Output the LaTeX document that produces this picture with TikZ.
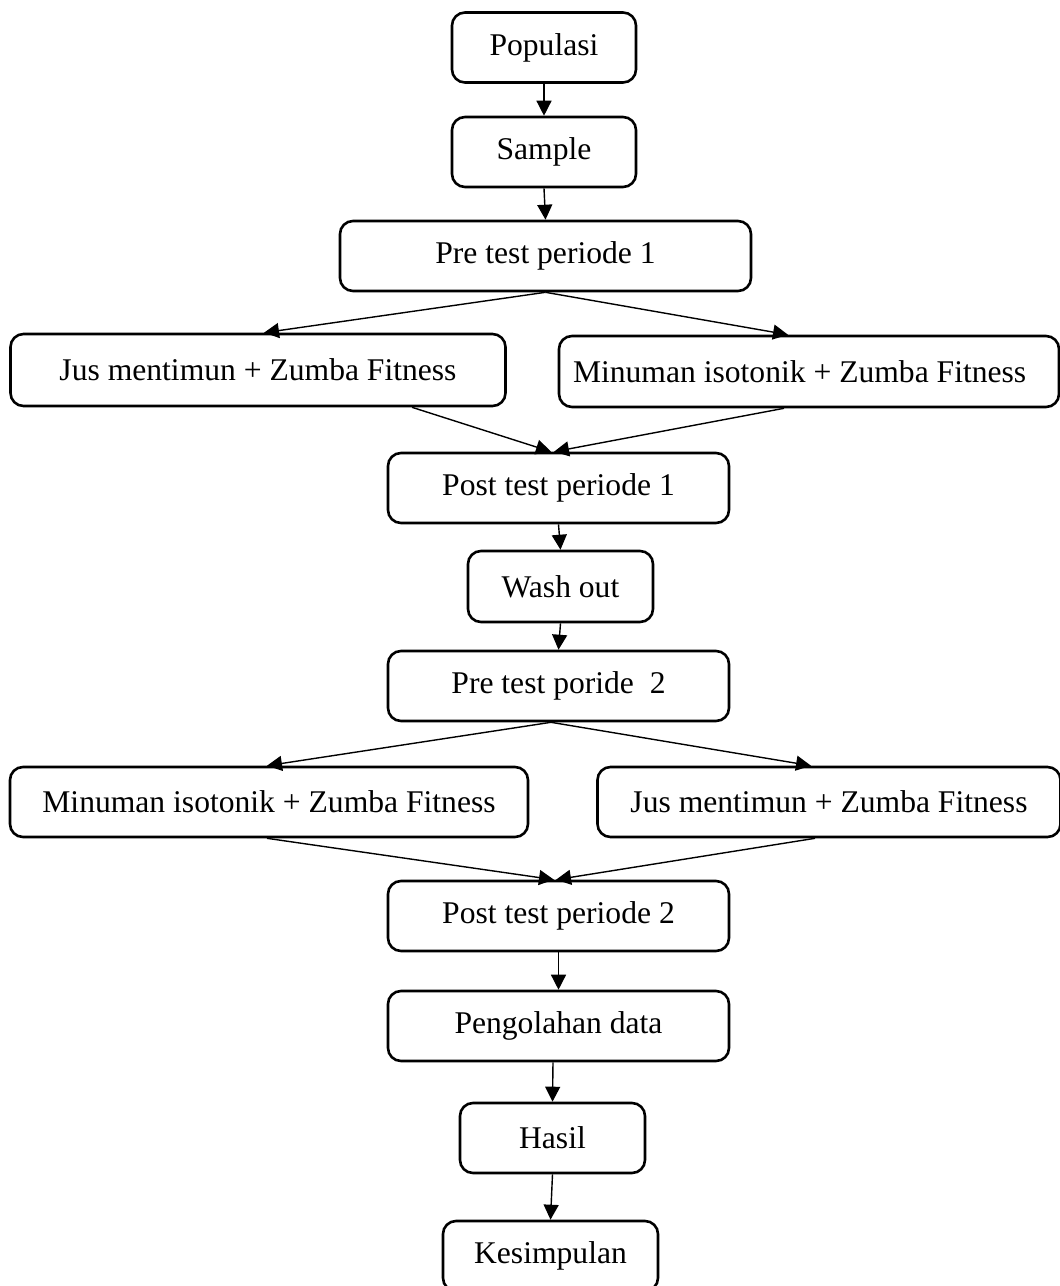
\documentclass[tikz,border=0pt]{standalone}
\usepackage{fontspec}
\setmainfont{Liberation Serif}
\usetikzlibrary{arrows.meta}
\begin{document}
\begin{tikzpicture}[x=1pt,y=-1pt,
  box/.style={draw,line width=2.6pt,rounded corners=13pt,minimum height=70pt,
    inner sep=0pt,font=\fontsize{31.6}{36}\selectfont},
  conn/.style={line width=1.4pt,-{Triangle[length=15pt,width=15pt]}}]
\useasboundingbox (0,0) rectangle (1060,1286);
\node[box,minimum width=184pt] (pop) at (544,47.5) {Populasi};
\node[box,minimum width=184pt] (samp) at (544,152) {Sample};
\node[box,minimum width=411pt] (pre1) at (545.5,256) {Pre test periode 1};
\node[box,minimum width=495pt,minimum height=72pt] (jus1) at (258,370) {Jus mentimun + Zumba Fitness};
\node[box,minimum width=500pt,minimum height=71pt] (min1) at (809,371.5) {\makebox[472pt][l]{Minuman isotonik + Zumba Fitness}};
\node[box,minimum width=341pt] (post1) at (558.5,488) {Post test periode 1};
\node[box,minimum width=185pt,minimum height=71pt] (wash) at (560.5,586.5) {Wash out};
\node[box,minimum width=341pt] (pre2) at (558.5,686) {Pre test poride\ \ 2};
\node[box,minimum width=518pt] (min2) at (269,802) {Minuman isotonik + Zumba Fitness};
\node[box,minimum width=463pt] (jus2) at (829,802) {Jus mentimun + Zumba Fitness};
\node[box,minimum width=341pt] (post2) at (558.5,916) {Post test periode 2};
\node[box,minimum width=341pt] (peng) at (558.5,1026) {Pengolahan data};
\node[box,minimum width=185pt] (hasil) at (552.5,1138) {Hasil};
\node[box,minimum width=215pt] (kes) at (550.5,1256) {Kesimpulan};
\draw[conn] (pop.south) -- (samp.north);
\draw[conn] (samp.south) -- (pre1.north);
\draw[conn] (pre1.south) -- ([xshift=6pt]jus1.north);
\draw[conn] (pre1.south) -- ([xshift=-21pt]min1.north);
\draw[conn] ([xshift=154pt]jus1.south) -- ([xshift=-7.5pt]post1.north);
\draw[conn] ([xshift=-25pt]min1.south) -- ([xshift=-4.5pt]post1.north);
\draw[conn] (post1.south) -- (wash.north);
\draw[conn] (wash.south) -- (pre2.north);
\draw[conn] ([xshift=-7.5pt]pre2.south) -- ([xshift=-2pt]min2.north);
\draw[conn] ([xshift=-7.5pt]pre2.south) -- ([xshift=-18pt]jus2.north);
\draw[conn] ([xshift=-2pt]min2.south) -- ([xshift=-4.5pt]post2.north);
\draw[conn] ([xshift=-14pt]jus2.south) -- ([xshift=-2.5pt]post2.north);
\draw[conn] (post2.south) -- (peng.north);
\draw[conn] ([xshift=-5.5pt]peng.south) -- (hasil.north);
\draw[conn] (hasil.south) -- (kes.north);
\end{tikzpicture}
\end{document}
